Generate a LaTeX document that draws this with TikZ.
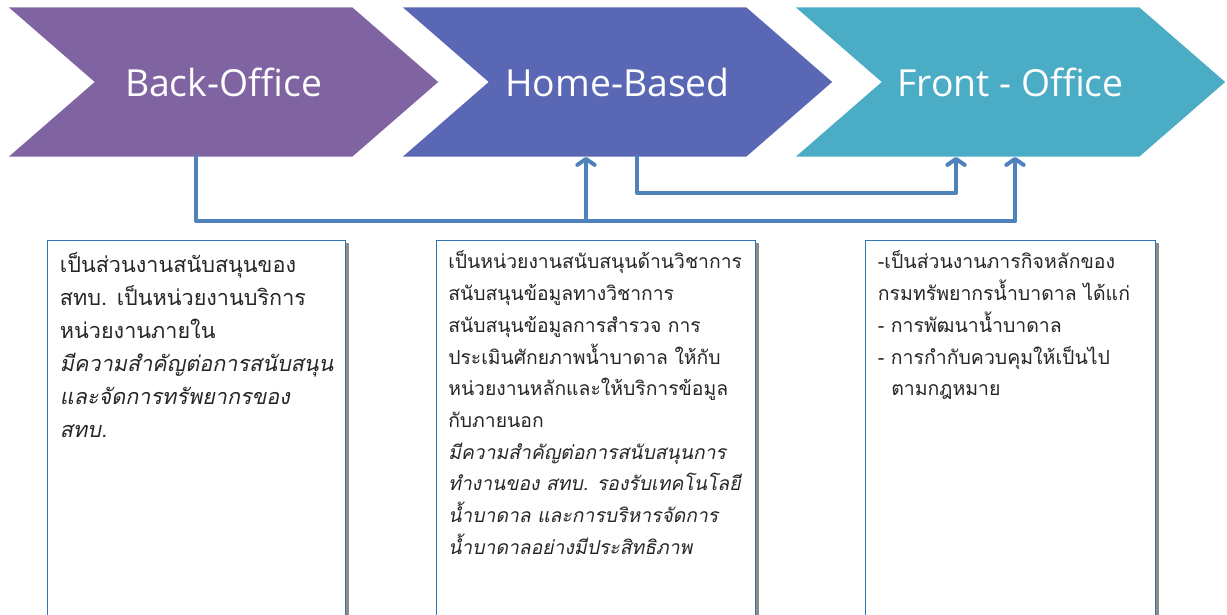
\documentclass[tikz,border=0pt]{standalone}
\usepackage{fontspec}
\setmainfont{Open Sans}
\newfontfamily\thaifont[Script=Thai]{Loma}
\newfontfamily\thaiit[Script=Thai,FakeSlant=0.2]{Loma}
\usetikzlibrary{positioning, shapes.symbols, arrows.meta, shadows}
\definecolor{bocol}{HTML}{8064A2}
\definecolor{hbcol}{HTML}{5A67B4}
\definecolor{focol}{HTML}{4BACC6}
\definecolor{linkcol}{HTML}{4F81BD}
\definecolor{boxline}{HTML}{2E75B6}
\definecolor{txtcol}{HTML}{262626}

\begin{document}
\begin{tikzpicture}[x=0.75pt,y=-0.75pt,
    chev/.style={signal, signal from=west, signal to=east, signal pointer angle=82,
        minimum width=322pt, minimum height=112pt, inner sep=0pt, text=white,
        font=\fontsize{28}{32}\selectfont},
    box/.style={draw=boxline, line width=1pt, fill=white, anchor=north west,
        minimum height=300pt,
        drop shadow={shadow xshift=2.5pt, shadow yshift=-2pt, fill=black!45, opacity=1}},
    txt/.style={align=left, inner sep=0pt, text=txtcol,
        font=\thaifont\fontsize{14.6}{23.8}\selectfont},
    link/.style={draw=linkcol, line width=3pt, line cap=round, line join=round},
    up/.style={link, -{Straight Barb[length=4.5pt,width=13pt,round]}}]
    \useasboundingbox (0,0) rectangle (1227,614);
    \clip (0,0) rectangle (1227,614);
    % chevrons
    \node[chev, fill=bocol] (bo) at (223.5,82) {Back-Office};
    \node[chev, fill=hbcol] (hb) at (617.5,82) {Home-Based};
    \node[chev, fill=focol] (fo) at (1010.5,82) {Front - Office};
    % boxes
    \node[box, minimum width=223.5pt] (b1) at (47,240) {};
    \node[box, minimum width=239pt] (b2) at (436,240) {};
    \node[box, minimum width=217.5pt] (b3) at (865,240) {};
    \node[txt, font=\thaifont\fontsize{16.2}{24.75}\selectfont,
          below right=9pt and 9.5pt of b1.north west] (t1) {%
        เป็นส่วนงานสนับสนุนของ\\
        สทบ. เป็นหน่วยงานบริการ\\
        หน่วยงานภายใน\\
        {\thaiit มีความสำคัญต่อการสนับสนุน}\\
        {\thaiit และจัดการทรัพยากรของ}\\
        {\thaiit สทบ.}};
    \node[txt, font=\thaifont\fontsize{14.5}{23.8}\selectfont,
          below right=8pt and 9pt of b2.north west] (t2) {%
        เป็นหน่วยงานสนับสนุนด้านวิชาการ\\
        สนับสนุนข้อมูลทางวิชาการ\\
        สนับสนุนข้อมูลการสำรวจ การ\\
        ประเมินศักยภาพน้ำบาดาล ให้กับ\\
        หน่วยงานหลักและให้บริการข้อมูล\\
        กับภายนอก\\
        {\thaiit มีความสำคัญต่อการสนับสนุนการ}\\
        {\thaiit ทำงานของ สทบ. รองรับเทคโนโลยี}\\
        {\thaiit น้ำบาดาล และการบริหารจัดการ}\\
        {\thaiit น้ำบาดาลอย่างมีประสิทธิภาพ}};
    \node[txt, below right=8pt and 9.5pt of b3.north west] (t3) {%
        -เป็นส่วนงานภารกิจหลักของ\\
        กรมทรัพยากรน้ำบาดาล ได้แก่\\
        - การพัฒนาน้ำบาดาล\\
        - การกำกับควบคุมให้เป็นไป\\
        \hspace*{10pt}ตามกฎหมาย};
    % connectors
    \coordinate (j1) at (196,221);
    \coordinate (j2) at (586,221);
    \coordinate (j3) at (1015,221);
    \coordinate (k1) at (637,193);
    \coordinate (k2) at (956,193);
    \draw[link] (bo.south -| j1) -- (j1) -- (j3);
    \draw[up] (j3) -- (fo.south -| j3);
    \draw[up] (j2) -- (hb.south -| j2);
    \draw[up] (hb.south -| k1) -- (k1) -- (k2) -- (fo.south -| k2);
\end{tikzpicture}
\end{document}
